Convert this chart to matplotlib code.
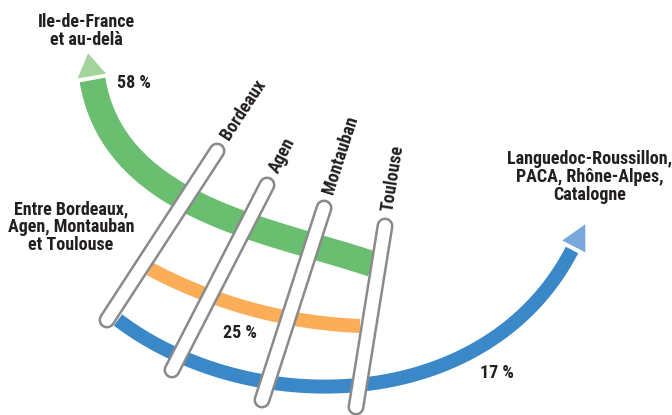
import numpy as np
import matplotlib.pyplot as plt
from matplotlib.patches import Polygon

plt.rcParams['font.family'] = ['Roboto Condensed', 'Liberation Sans', 'DejaVu Sans']

# ==========================================
# DONNEES
# ==========================================
destinations = ['Ile-de-France\net au-delà',
                'Entre Bordeaux,\nAgen, Montauban\net Toulouse',
                'Languedoc-Roussillon,\nPACA, Rhône-Alpes,\nCatalogne']
parts = [58, 25, 17]
villes = ['Bordeaux', 'Agen', 'Montauban', 'Toulouse']

# ==========================================
# MISE EN PAGE (pixels)
# ==========================================
couleurs = ['#6abe70', '#fbad57', '#3a88c8']
pointes = ['#a3d49c', None, '#7aa8dc']
texte = '#231f20'
gris = '#8a8a8a'

# courbes de Bezier : P0, P1, P2, P3 (la fleche est du cote de P0 / P3)
courbes = [[(92.5, 80), (114, 209), (272, 230), (372, 264)],
           [(150, 269), (215, 303.5), (286.5, 323), (360, 326)],
           [(118, 320), (253, 422), (488, 413), (572, 250)]]
epaisseurs = [26, 14, 14]
# fleches : extremite (0 = debut, 1 = fin), ecart, largeur, longueur
fleches = [(0, 4, 29, 23), None, (1, 4, 26, 25)]

tubes = [((217, 151), (107, 320)), ((267, 185), (172, 370)),
         ((324, 208), (262, 400)), ((385, 226), (356, 407))]

pos_dest = [(86, 31), (71, 227), (590, 177)]
pos_parts = [(134, 83), (240, 333), (497, 373)]
taille = 13


def px(v):
    return v * 72 / 100


def bezier(P, t):
    P = np.array(P, dtype=float)
    t = t[:, None]
    return ((1 - t) ** 3 * P[0] + 3 * (1 - t) ** 2 * t * P[1]
            + 3 * (1 - t) * t ** 2 * P[2] + t ** 3 * P[3])


fig = plt.figure(figsize=(6.72, 4.15), dpi=100)
ax = fig.add_axes([0, 0, 1, 1])
ax.set_xlim(0, 672)
ax.set_ylim(415, 0)
ax.axis('off')

for P, w, c, fl, pc in zip(courbes, epaisseurs, couleurs, fleches, pointes):
    pts = bezier(P, np.linspace(0, 1, 200))
    ax.plot(pts[:, 0], pts[:, 1], color=c, lw=px(w), solid_capstyle='butt', zorder=1)
    if fl is not None:
        bout, ecart, larg, long = fl
        P = np.array(P, dtype=float)
        if bout == 0:
            ext, d = P[0], P[0] - P[1]
        else:
            ext, d = P[3], P[3] - P[2]
        d /= np.hypot(*d)
        nrm = np.array([-d[1], d[0]])
        base = ext + d * ecart
        tri = [base + nrm * larg / 2, base - nrm * larg / 2, base + d * long]
        ax.add_patch(Polygon(tri, closed=True, facecolor=pc, lw=0, zorder=1))

for (haut, bas), nom in zip(tubes, villes):
    xs = [haut[0], bas[0]]
    ys = [haut[1], bas[1]]
    ax.plot(xs, ys, color=gris, lw=px(17), solid_capstyle='round', zorder=3)
    ax.plot(xs, ys, color='white', lw=px(12), solid_capstyle='round', zorder=4)
    d = np.array([haut[0] - bas[0], haut[1] - bas[1]], dtype=float)
    d /= np.hypot(*d)
    ang = np.degrees(np.arctan2(-d[1], d[0]))
    ax.text(haut[0] + d[0] * 15, haut[1] + d[1] * 15, nom, rotation=ang,
            rotation_mode='anchor', ha='left', va='center', fontsize=taille,
            fontweight='bold', color=texte, zorder=5)

for (x, y), s in zip(pos_dest, destinations):
    ax.text(x, y, s, ha='center', va='center', fontsize=taille, fontweight='bold',
            color=texte, linespacing=1.0)

for (x, y), p in zip(pos_parts, parts):
    ax.text(x, y, f'{p} %', ha='center', va='center', fontsize=taille,
            fontweight='bold', color=texte)

plt.savefig('out.png', dpi=100)
